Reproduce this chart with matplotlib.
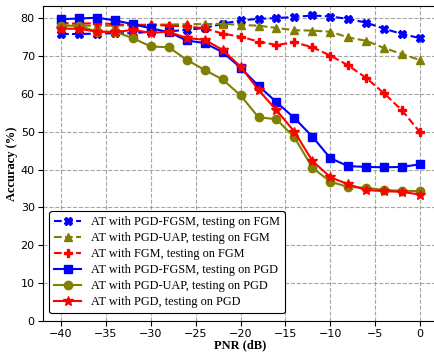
import numpy as np
import matplotlib
matplotlib.use("Agg")
import matplotlib.pyplot as plt

# PNR values (dB)
pnr = np.arange(-40, 1, 2)

# accuracy (%)
pgdfgsm_fgm = [75.8, 75.8, 75.9, 76.0, 76.0, 76.4, 76.5, 76.9, 77.4, 78.5, 79.4,
               79.8, 80.0, 80.3, 80.7, 80.4, 79.8, 78.8, 77.2, 75.8, 74.7]
pgduap_fgm = [78.0, 78.0, 78.0, 78.0, 78.2, 78.3, 78.3, 78.4, 78.4, 78.5, 78.2,
              78.0, 77.4, 76.8, 76.7, 76.4, 74.9, 74.0, 72.1, 70.5, 68.9]
fgm_fgm = [78.7, 78.5, 78.7, 78.4, 78.1, 78.2, 78.0, 77.8, 77.3, 75.9, 75.1,
           73.8, 72.9, 73.6, 72.3, 70.1, 67.5, 64.2, 60.1, 55.6, 49.8]
pgdfgsm_pgd = [79.7, 79.9, 80.1, 79.4, 78.4, 77.3, 76.3, 74.1, 73.4, 71.0, 66.9,
               62.1, 57.8, 53.6, 48.7, 43.0, 40.9, 40.7, 40.6, 40.7, 41.4]
pgduap_pgd = [78.0, 78.0, 76.4, 76.4, 74.7, 72.5, 72.3, 69.0, 66.3, 63.8, 59.6,
              53.8, 53.3, 48.5, 40.5, 36.8, 35.4, 35.2, 34.6, 34.4, 34.3]
pgd_pgd = [77.2, 77.2, 76.4, 76.3, 76.9, 76.1, 76.4, 74.7, 74.3, 71.6, 67.2,
           61.0, 55.7, 50.0, 42.3, 38.0, 36.1, 34.6, 34.3, 34.1, 33.4]

fig = plt.figure(figsize=(4.35, 3.52), dpi=100)
ax = fig.add_axes([0.099, 0.088, 0.908, 0.895])

ax.plot(pnr, pgdfgsm_fgm, '--', color='blue', marker='X', ms=6, lw=1.5,
        label='AT with PGD-FGSM, testing on FGM')
ax.plot(pnr, pgduap_fgm, '--', color='olive', marker='^', ms=6, lw=1.5,
        label='AT with PGD-UAP, testing on FGM')
ax.plot(pnr, fgm_fgm, '--', color='red', marker='P', ms=6, lw=1.5,
        label='AT with FGM, testing on FGM')
ax.plot(pnr, pgdfgsm_pgd, '-', color='blue', marker='s', ms=6, lw=1.5,
        label='AT with PGD-FGSM, testing on PGD')
ax.plot(pnr, pgduap_pgd, '-', color='olive', marker='o', ms=6, lw=1.5,
        label='AT with PGD-UAP, testing on PGD')
ax.plot(pnr, pgd_pgd, '-', color='red', marker='*', ms=7, lw=1.5,
        label='AT with PGD, testing on PGD')

ax.set_xlim(-42, 2)
ax.set_ylim(0, 83.2)
ax.set_xticks(np.arange(-40, 1, 5))
ax.set_yticks(np.arange(0, 81, 10))
ax.tick_params(labelsize=8, pad=2.5)
ax.grid(True, linestyle='--', color='gray', alpha=0.7)

ax.set_xlabel('PNR (dB)', family='Liberation Serif', fontweight='bold', fontsize=9, labelpad=0)
ax.set_ylabel('Accuracy (%)', family='Liberation Serif', fontweight='bold', fontsize=9, labelpad=2)

leg = ax.legend(loc='lower left', bbox_to_anchor=(0.0, 0.005),
                prop={'family': 'Liberation Serif', 'size': 8.8},
                edgecolor='black', framealpha=1, handlelength=2.2,
                handletextpad=0.8, labelspacing=0.33)
leg.get_frame().set_linewidth(0.8)

fig.savefig('out.png', dpi=100)
